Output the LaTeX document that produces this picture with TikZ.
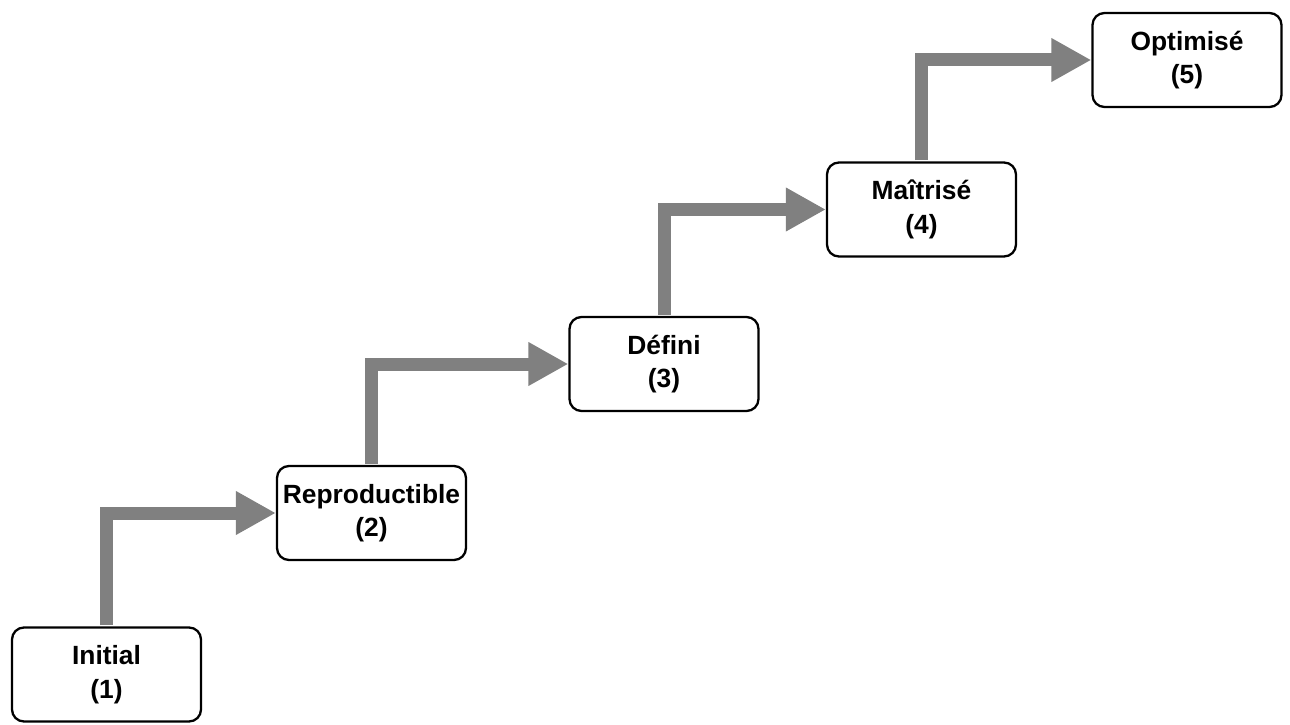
\documentclass[tikz,border=0pt]{standalone}
\usepackage{fontspec}
\setmainfont{Liberation Sans}
\usetikzlibrary{arrows.meta}

\begin{document}
\begin{tikzpicture}[
    level/.style={draw, line width=1.3pt, rounded corners=0.24cm, fill=white,
        minimum width=3.78cm, minimum height=1.88cm, align=center,
        font=\fontsize{15}{19}\selectfont\bfseries},
    stepup/.style={draw=gray, line width=0.26cm,
        -{Triangle[length=0.8cm, width=0.82cm]}, shorten <=0.7pt}]
    \useasboundingbox (0,0) rectangle (25.8,14.48);
    \node[level](initial) at (2.13,0.99) {Initial\\(1)};
    \node[level](repro) at (7.43,4.22) {Reproductible\\(2)};
    \node[level](defini) at (13.28,7.2) {Défini\\(3)};
    \node[level](maitrise) at (18.43,10.29) {Maîtrisé\\(4)};
    \node[level](optimise) at (23.74,13.28) {Optimisé\\(5)};
    \draw[stepup](initial.north) |- (repro.west);
    \draw[stepup](repro.north) |- (defini.west);
    \draw[stepup](defini.north) |- (maitrise.west);
    \draw[stepup](maitrise.north) |- (optimise.west);
\end{tikzpicture}
\end{document}
